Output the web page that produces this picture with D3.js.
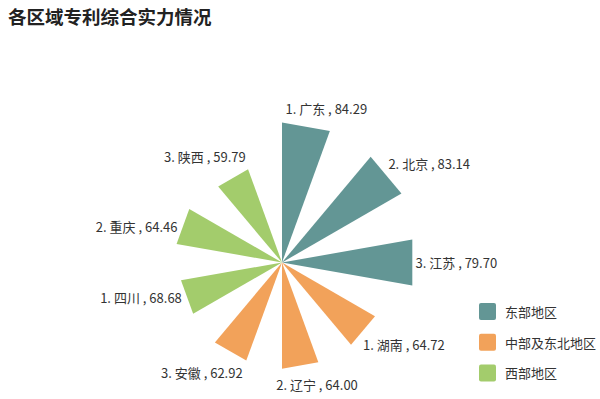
<html>
<head>
<meta charset="utf-8">
<style>
    body { margin: 0; background: #fff; }
    text { font-family: "Noto Sans CJK SC", "Noto Sans", sans-serif; }
    .title { font-size: 18.5px; font-weight: bold; fill: #222; }
    .label { font-size: 13px; fill: #333; }
    .legend text { font-size: 13px; fill: #333; }
</style>
</head>
<body>
<svg id="chart" width="600" height="399"></svg>
<script src="https://cdn.jsdelivr.net/npm/d3@7"></script>
<script>
    // data
    let regions = ["广东", "北京", "江苏", "湖南", "辽宁", "安徽", "四川", "重庆", "陕西"]
    let ranks = [1, 2, 3, 1, 2, 3, 1, 2, 3]
    let scores = [84.29, 83.14, 79.70, 64.72, 64.00, 62.92, 68.68, 64.46, 59.79]
    // wedge lengths as drawn in the picture (四川 is drawn shorter than its score)
    let barValues = [84.3, 83.1, 79.7, 64.7, 64.0, 62.9, 61.8, 64.5, 59.8]
    let groupOf = [0, 0, 0, 1, 1, 1, 2, 2, 2]
    let groups = ["东部地区", "中部及东北地区", "西部地区"]
    let colors = ["#639695", "#f2a25a", "#a3cc6c"]

    let svg = d3.select("#chart")
    let cx = 282, cy = 262.5

    svg.append("text").attr("class", "title")
        .attr("x", 8).attr("y", 24)
        .text("各区域专利综合实力情况")

    let rScale = d3.scaleLinear().domain([0, 100]).range([0, 166])
    let step = 360 / regions.length
    let toRad = d => d * Math.PI / 180
    let pt = (deg, r) => [cx + r * Math.sin(toRad(deg)), cy - r * Math.cos(toRad(deg))]

    let body = svg.append("g")

    body.selectAll("path.wedge").data(regions)
        .enter().append("path")
        .attr("class", "wedge")
        .attr("fill", (d, i) => colors[groupOf[i]])
        .attr("d", (d, i) => {
            let r = rScale(barValues[i])
            let a = pt(i * step, r), b = pt(i * step + step / 2, r)
            return "M" + cx + "," + cy + "L" + a + "L" + b + "Z"
        })

    // labels: a bit outside each wedge, nudged toward the horizontal
    body.selectAll("text.label").data(regions)
        .enter().append("text")
        .attr("class", "label")
        .attr("text-anchor", "middle")
        .attr("dominant-baseline", "central")
        .attr("transform", (d, i) => {
            let mid = i * step + step / 4
            let toward = mid < 180 ? 90 : 270
            let ang = mid + 6 * Math.sign(toward - mid)
            let s = Math.sin(toRad(ang)), c = Math.cos(toRad(ang))
            let dist = rScale(barValues[i]) + Math.abs(s) * 40 + Math.abs(c) * 8 + 2
            return "translate(" + pt(ang, dist) + ")"
        })
        .text((d, i) => ranks[i] + ". " + d + " , " + scores[i].toFixed(2))

    let legend = svg.append("g").attr("class", "legend")
        .attr("transform", "translate(479,303)")
    let item = legend.selectAll("g").data(groups)
        .enter().append("g")
        .attr("transform", (d, i) => "translate(0," + i * 30.7 + ")")
    item.append("rect")
        .attr("width", 17).attr("height", 17).attr("rx", 2)
        .attr("fill", (d, i) => colors[i])
    item.append("text")
        .attr("x", 26).attr("y", 8.5)
        .attr("dominant-baseline", "central")
        .text(d => d)
</script>
</body>
</html>
